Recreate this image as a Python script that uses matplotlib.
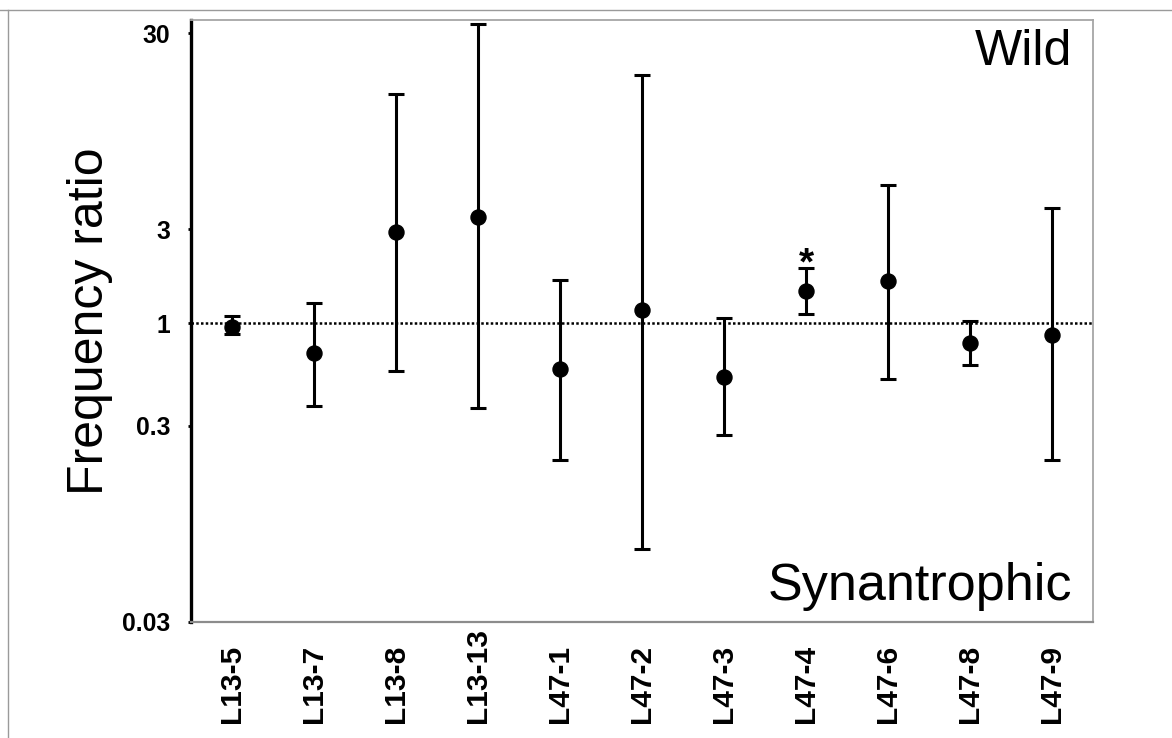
import numpy as np
import matplotlib
matplotlib.use("Agg")
import matplotlib.pyplot as plt
from matplotlib.lines import Line2D

plt.rcParams['font.family'] = ['Liberation Sans', 'DejaVu Sans']

# data (point estimate + interval)
labels = ['L13-5', 'L13-7', 'L13-8', 'L13-13', 'L47-1', 'L47-2',
          'L47-3', 'L47-4', 'L47-6', 'L47-8', 'L47-9']
ratio = [0.957, 0.703, 2.90, 3.49, 0.582, 1.17, 0.529, 1.458, 1.63, 0.795, 0.87]
upper = [1.087, 1.263, 14.8, 33.4, 1.66, 18.4, 1.058, 1.903, 5.03, 1.03, 3.84]
lower = [0.877, 0.379, 0.570, 0.370, 0.200, 0.0701, 0.269, 1.113, 0.518, 0.612, 0.200]
signif = ['L47-4']

yticks = [0.03, 0.3, 1, 3, 30]
ytick_labels = ['0.03', '0.3', '1', '3', '30']

x = np.arange(1, len(labels) + 1)
ratio = np.array(ratio)
err = np.vstack([ratio - np.array(lower), np.array(upper) - ratio])

fig = plt.figure(figsize=(11.72, 7.38), dpi=100)
ax = fig.add_axes([0.1627, 0.1576, 0.7700, 0.8153])

# reference line at ratio 1
ax.axhline(1, color='black', lw=1.8, ls=(0, (1, 0.9)), zorder=1)

ax.errorbar(x, ratio, yerr=err, fmt='o', color='black', ms=10.8,
            elinewidth=2.2, capsize=6, capthick=2.2, zorder=3)

for lab in signif:
    i = labels.index(lab)
    ax.annotate('*', xy=(x[i], upper[i]), xytext=(0, -4.5), textcoords='offset points',
                ha='center', va='baseline', fontsize=28, fontweight='bold')

ax.set_yscale('log')
ax.set_ylim(0.03, 35.1)
ax.set_xlim(0.5, 11.5)
ax.set_yticks(yticks)
ax.set_yticklabels(ytick_labels)
ax.yaxis.set_minor_locator(matplotlib.ticker.NullLocator())
ax.set_xticks(x)
ax.set_xticklabels(labels, rotation=90)

ax.tick_params(axis='y', length=2.5, width=2, pad=12, labelsize=17.8)
ax.tick_params(axis='x', length=0, pad=73, labelsize=21.5)
for t in ax.get_xticklabels():
    t.set_fontweight('bold')
    t.set_va('bottom')
for t in ax.get_yticklabels():
    t.set_fontweight('bold')

ax.set_ylabel('Frequency ratio', fontsize=36, labelpad=7)

ax.spines['left'].set_color('black')
ax.spines['left'].set_linewidth(2.4)
ax.spines['bottom'].set_color('#8c8c8c')
ax.spines['bottom'].set_linewidth(1.6)
for s in ['top', 'right']:
    ax.spines[s].set_color('#a6a6a6')
    ax.spines[s].set_linewidth(1.3)

ax.text(0.977, 0.985, 'Wild', transform=ax.transAxes, ha='right', va='top', fontsize=36)
ax.text(0.977, 0.036, 'Synantrophic', transform=ax.transAxes, ha='right',
        va='baseline', fontsize=37.5)

# outer frame lines of the original image
fig.add_artist(Line2D([0, 1], [1 - 10 / 738] * 2, color='#9a9a9a', lw=1.0))
fig.add_artist(Line2D([8 / 1172] * 2, [0, 1 - 10 / 738], color='#9a9a9a', lw=1.0))

fig.savefig('out.png', dpi=100)
